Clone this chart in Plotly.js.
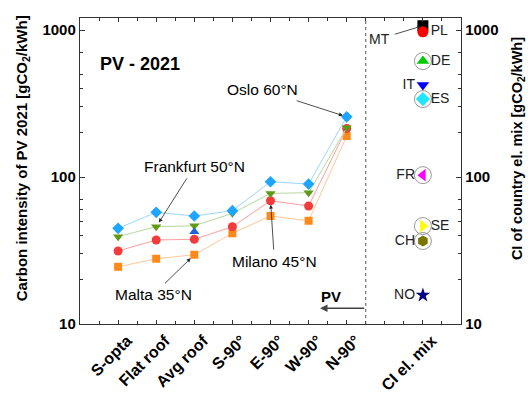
<!DOCTYPE html>
<html><head><meta charset="utf-8">
<script src="https://cdn.plot.ly/plotly-3.0.1.min.js"></script>
<style>body{margin:0;background:#fff}#c{width:528px;height:396px}</style>
</head><body><div id="c"></div>
<script>
const categories = ['S-opta','Flat roof','Avg roof','S-90°','E-90°','W-90°','N-90°'];
const mixLabel = 'CI el. mix';
const oslo      = [44.8, 57.5, 54.3, 59.0, 92.9, 89.6, 257];
const frankfurt = [39.3, 45.9, 46.6, 56.6, 77.4, 78.2, 216];
const milano    = [31.4, 37.3, 37.7, 45.9, 69.0, 63.5, 214];
const malta     = [24.5, 27.8, 29.6, 41.4, 54.3, 50.4, 190];
const extraAvgRoof = 42.5;
const countries = ['MT','PL','DE','IT','ES','FR','SE','CH','NO'];
const countryCI = [1070, 973, 615, 422, 339, 103, 46.4, 36.7, 15.7];
const ringed = ['DE','ES','FR','SE','CH'];

const xs = categories.map((c,i)=>i+1);
const xMix = categories.length + 2;
const F = 'Liberation Sans, Arial, sans-serif';

function series(y, name, mc, lc, sym, size){
  return {x: xs, y: y, name: name, type:'scatter', mode:'lines+markers',
    line:{color:lc, width:1}, marker:{color:mc, symbol:sym, size:size}};
}
const cColors = ['#000000','#ff0000','#00cc00','#0000ff','#22e6ff','#ff00ff','#ffff00','#7a7400','#000080'];
const cSymbols = ['square','circle','triangle-up','triangle-down','diamond','triangle-left','triangle-right','hexagon','star'];
const cTextPos = ['middle left','middle right','middle right','middle left','middle right','middle left','middle right','middle left','middle left'];
const cText = countries.map(c => c==='MT' ? '' : c);

const traces = [
  series(malta, 'Malta 35°N', '#ff8a1a', '#ffc894', 'square', 8),
  series(milano, 'Milano 45°N', '#f23c3c', '#ff9e9e', 'circle', 9),
  series(frankfurt, 'Frankfurt 50°N', '#5f9b16', '#b7d89e', 'triangle-down', 9),
  series(oslo, 'Oslo 60°N', '#1ea5ff', '#9cd6ff', 'diamond', 9),
  {x:[3], y:[extraAvgRoof], type:'scatter', mode:'markers', marker:{color:'#1a66d9', symbol:'triangle-up', size:9}},
  {x: countries.filter(c=>ringed.includes(c)).map(()=>xMix),
   y: countries.map((c,i)=>ringed.includes(c)?countryCI[i]:null).filter(v=>v!==null),
   yaxis:'y2', type:'scatter', mode:'markers', marker:{symbol:'circle-open', size:17, color:'#9a9a9a', line:{width:1}}},
  {x: countries.map(()=>xMix), y: countryCI, yaxis:'y2', type:'scatter', mode:'markers+text',
   text: cText, textposition: cTextPos, textfont:{family:F, size:14, color:'#222'},
   marker:{color:cColors, symbol:cSymbols, size:11, line:{width:0}}}
];

const tickF = {family:F, size:15, weight:'bold'};
const minorY = {tickvals:[20,30,40,50,60,70,200,300,400,500,700], ticks:'inside', ticklen:3, tickcolor:'#333', showgrid:false};
const layout = {
  width:528, height:396, showlegend:false,
  margin:{l:80, r:67, t:18, b:72},
  paper_bgcolor:'#fff', plot_bgcolor:'#fff',
  font:{family:F, color:'#000'},
  xaxis:{range:[0,10], tickvals:[...xs, xMix], ticktext:[...categories, mixLabel],
    tickangle:-45, ticklabelshift:9, ticks:'inside', ticklen:4, tickcolor:'#333', showline:true, linecolor:'#333', linewidth:1.2,
    mirror:'ticks', showgrid:false, zeroline:false, tickfont:{family:F, size:16, weight:'bold'},
    minor:{tickvals:[0.5,1.5,2.5,3.5,4.5,5.5,6.5,7.5,8,8.5,9.5], ticks:'inside', ticklen:3, tickcolor:'#333', showgrid:false}},
  yaxis:{type:'log', range:[1, 3.082], tickvals:[10,100,1000], ticktext:['10','100','1000'],
    ticks:'inside', ticklen:5, tickcolor:'#333', showline:true, linecolor:'#333', linewidth:1.2, showgrid:false,
    zeroline:false, tickfont:tickF, minor:minorY},
  yaxis2:{type:'log', range:[1, 3.082], overlaying:'y', side:'right', tickvals:[10,100,1000], ticktext:['10','100','1000'],
    ticks:'inside', ticklen:5, tickcolor:'#333', showline:true, linecolor:'#333', linewidth:1.2, showgrid:false,
    zeroline:false, tickfont:tickF, minor:minorY},
  shapes:[{type:'line', xref:'x', yref:'paper', x0:7.5, x1:7.5, y0:0, y1:1, line:{color:'#555', width:1, dash:'dot'}}],
  annotations:[
    {xref:'paper', yref:'paper', x:-0.152, y:0.542, xanchor:'center', yanchor:'middle', textangle:-90, showarrow:false,
     text:'<b>Carbon intensity of PV 2021 [gCO<sub>2</sub>/kWh]</b>', font:{family:F, size:15}},
    {xref:'paper', yref:'paper', x:1.150, y:0.572, xanchor:'center', yanchor:'middle', textangle:-90, showarrow:false,
     text:'<b>CI of country el. mix [gCO<sub>2</sub>/kWh]</b>', font:{family:F, size:14.5}},
    {xref:'paper', yref:'paper', x:0.046, y:0.889, xanchor:'left', text:'<b>PV - 2021</b>', showarrow:false, font:{family:F, size:18}},
    {x:7, y:Math.log10(oslo[6]), text:'Oslo 60°N', ax:-84, ay:-27, showarrow:true, arrowhead:2, arrowsize:1, arrowwidth:0.8, arrowcolor:'#222', standoff:4, startstandoff:3, font:{family:F, size:15.5}},
    {x:2, y:Math.log10(frankfurt[1]), text:'Frankfurt 50°N', ax:38, ay:-60, showarrow:true, arrowhead:2, arrowsize:1, arrowwidth:0.8, arrowcolor:'#222', standoff:5, startstandoff:2, font:{family:F, size:15.5}},
    {x:5, y:Math.log10(milano[4]), text:'Milano 45°N', ax:4, ay:61, showarrow:true, arrowhead:2, arrowsize:1, arrowwidth:0.8, arrowcolor:'#222', standoff:4, startstandoff:2, font:{family:F, size:15.5}},
    {x:3, y:Math.log10(malta[2]), text:'Malta 35°N', ax:-41, ay:40, showarrow:true, arrowhead:2, arrowsize:1, arrowwidth:0.8, arrowcolor:'#222', standoff:5, startstandoff:2, font:{family:F, size:15.5}},
    {x:xMix, y:Math.log10(countryCI[0]), yref:'y2', text:'MT', ax:-43, ay:13, showarrow:true, arrowhead:2, arrowsize:0.8, arrowwidth:0.8, arrowcolor:'#222', standoff:2, startstandoff:3, font:{family:F, size:14, color:'#222'}},
    {x:6.6, y:1.186, text:'<b>PV</b>', showarrow:false, font:{family:F, size:15}},
    {x:6.3, y:1.107, ax:7.5, ay:1.107, axref:'x', ayref:'y', text:'', showarrow:true, arrowhead:2, arrowsize:1, arrowwidth:1.5, arrowcolor:'#444'}
  ]
};
Plotly.newPlot('c', traces, layout, {displayModeBar:false, staticPlot:true});
</script></body></html>
